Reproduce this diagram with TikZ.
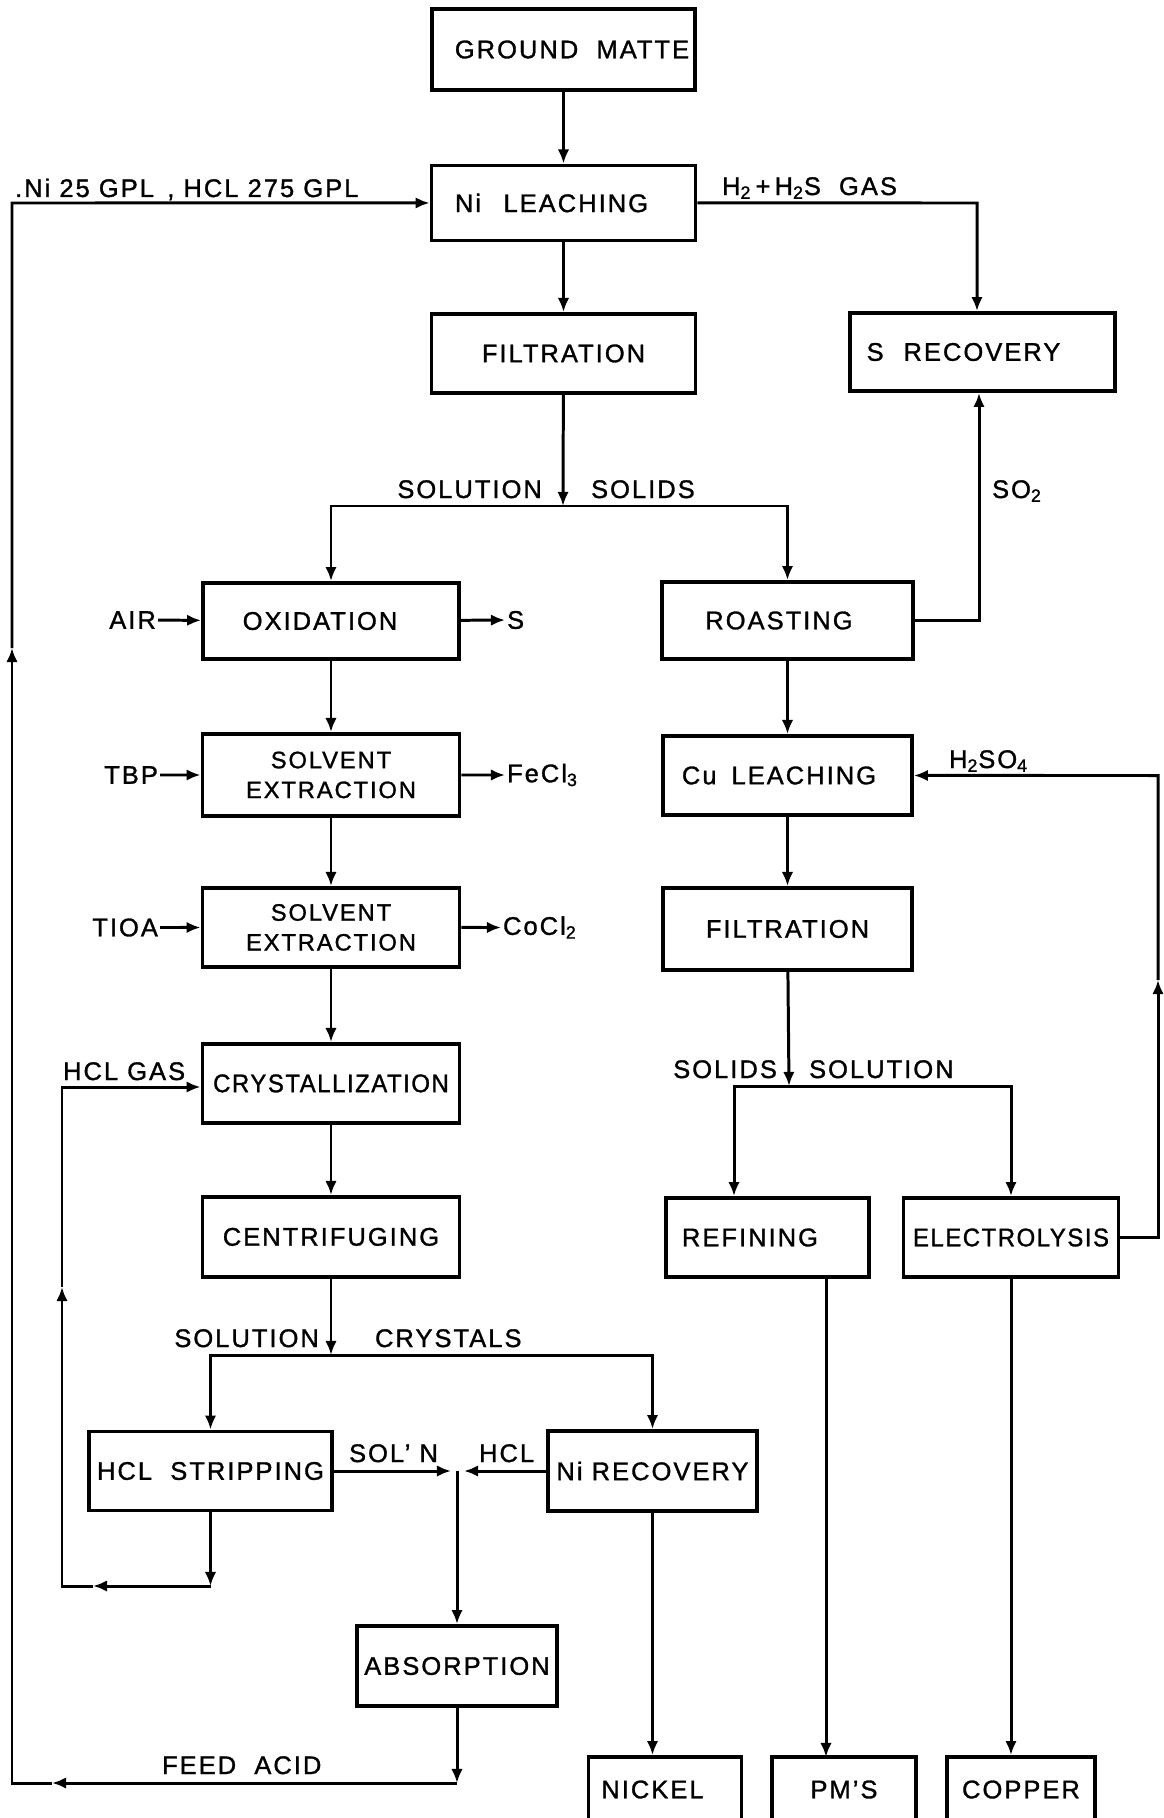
\documentclass[tikz,border=0pt]{standalone}
\usepackage{fontspec}
\setmainfont{Liberation Sans}[LetterSpace=8, FakeBold=1.2]
\usetikzlibrary{arrows, arrows.meta, positioning, shapes, calc}

\begin{document}
\begin{tikzpicture}[x=0.02cm, y=-0.02cm, font=\fontsize{14.5}{17}\selectfont]
% 定义节点样式
\tikzstyle{block} = [rectangle, draw, line width=2.2pt, align=center, inner sep=1pt, minimum width=5.14cm, minimum height=1.58cm]
\tikzstyle{line} = [draw, line width=1.7pt, -{Latex[length=8pt, width=6.5pt]}]
\tikzstyle{tag} = [inner sep=1pt]
\tikzstyle{tight} = [font=\fontsize{14.5}{17}\selectfont\addfontfeature{FakeStretch=0.94, LetterSpace=6}]
\tikzstyle{twoline} = [font=\fontsize{13.5}{17}\selectfont]

% 画布
\path [use as bounding box, fill=white] (0,0) rectangle (1163,1818);
\clip (0,0) rectangle (1163,1818);

% 中间一列
\node [block, minimum width=5.26cm, minimum height=1.62cm] (ground) at (563.5,49.5) {\hspace{0.34cm}GROUND\ \ MATTE};
\node [block, below of=ground, node distance=3.07cm, minimum width=5.28cm, minimum height=1.5cm] (nileach) {Ni\hspace{0.45cm}LEACHING\hspace{0.48cm}};
\node [block, below of=nileach, node distance=3.01cm, minimum width=5.28cm] (filt1) {FILTRATION};
\node [block, minimum width=5.3cm, minimum height=1.56cm] (srec) at (982.5,352) {S\hspace{0.4cm}RECOVERY\hspace{0.76cm}};

% 左边一列
\node [block, minimum width=5.12cm, minimum height=1.52cm] (oxid) at (331,621) {OXIDATION\hspace{0.44cm}};
\node [block, twoline, below of=oxid, node distance=3.08cm, minimum height=1.64cm] (solv1) {SOLVENT\\EXTRACTION};
\node [block, twoline, below of=solv1, node distance=3.05cm] (solv2) {SOLVENT\\EXTRACTION};
\node [block, tight, below of=solv2, node distance=3.12cm] (cryst) {CRYSTALLIZATION};
\node [block, below of=cryst, node distance=3.07cm, minimum height=1.6cm] (centri) {CENTRIFUGING};

% 右边一列
\node [block, minimum width=5.02cm, minimum height=1.54cm] (roast) at (787.5,620.5) {ROASTING\hspace{0.34cm}};
\node [block, below of=roast, node distance=3.1cm, minimum width=4.98cm] (culeach) {Cu\hspace{0.3cm}LEACHING\hspace{0.34cm}};
\node [block, below of=culeach, node distance=3.07cm, minimum width=4.98cm, minimum height=1.64cm] (filt2) {FILTRATION};
\node [block, minimum width=4.06cm] (refin) at (767.5,1237.5) {REFINING\hspace{0.7cm}};
\node [block, tight, minimum width=4.3cm] (electro) at (1011,1237.5) {ELECTROLYSIS};

% 下面几个
\node [block, minimum width=4.86cm] (hclstrip) at (210.5,1471) {HCL\ \ STRIPPING};
\node [block, minimum width=4.18cm, minimum height=1.6cm] (nirec) at (652.5,1471) {Ni RECOVERY};
\node [block, minimum width=4cm, minimum height=1.6cm] (absorp) at (457,1666) {ABSORPTION};
\node [block, minimum width=3.06cm, minimum height=1.3cm] (nickel) at (665,1789.5) {NICKEL\hspace{0.5cm}};
\node [block, minimum width=2.88cm, minimum height=1.3cm] (pms) at (844,1789.5) {PM'S};
\node [block, minimum width=2.96cm, minimum height=1.3cm] (copper) at (1021,1789.5) {COPPER};

% 添加标签
\node [tag, anchor=base west] (feed) at (13,197) {.Ni 25 GPL\,\ ,\ HCL 275\ GPL};
\node [tag, anchor=base west] (gas) at (720,195) {H\textsubscript{2}\,+\,H\textsubscript{2}S\ \ GAS};
\node [tag, anchor=base east] (sol1) at (544,498) {SOLUTION};
\node [tag, anchor=base west] (sld1) at (589,498) {SOLIDS};
\node [tag, anchor=base west] (so2) at (990,498) {SO\textsubscript{2}};
\node [tag, anchor=east] (air) at (158,620) {AIR};
\node [tag, anchor=west] (sout) at (505,620) {S};
\node [tag, anchor=east] (tbp) at (160,775) {TBP};
\node [tag, anchor=west] (fecl) at (505,775) {FeCl\textsubscript{3}};
\node [tag, anchor=east] (tioa) at (160,927.5) {TIOA};
\node [tag, anchor=west] (cocl) at (501,927.5) {CoCl\textsubscript{2}};
\node [tag, anchor=base west] (h2so4) at (947,768) {H\textsubscript{2}SO\textsubscript{4}};
\node [tag, anchor=base west] (hclgas) at (61,1080) {HCL GAS};
\node [tag, anchor=base east] (sld2) at (779,1078) {SOLIDS};
\node [tag, anchor=base west] (sol2) at (807,1078) {SOLUTION};
\node [tag, anchor=base east] (sol3) at (321,1347) {SOLUTION};
\node [tag, anchor=base west] (cryl) at (373,1347) {CRYSTALS};
\node [tag, anchor=base west] (soln) at (347,1462) {SOL'~N};
\node [tag, anchor=base west] (hcl) at (477,1462) {HCL};
\node [tag, anchor=base west] (acid) at (160,1774) {FEED\ \ ACID};

% 连接点
\coordinate (s1) at (563,506);
\coordinate (s2) at (789,1086);
\coordinate (s3) at (331,1355);
\coordinate (rfin) at (734,1086);
\coordinate (gasr) at (977,203);
\coordinate (so2r) at (979,620.5);
\coordinate (acr) at (1158,1237.5);
\coordinate (acm) at (1158,980);
\coordinate (acu) at (1158,775.5);
\coordinate (jn) at (457,1471);
\coordinate (jl) at (451,1471);
\coordinate (jr) at (464,1471);
\coordinate (hsb) at (210.5,1586);
\coordinate (hsm) at (93,1586);
\coordinate (hsl) at (62,1586);
\coordinate (hgm) at (62,1287);
\coordinate (hgt) at (62,1087);
\coordinate (fa) at (457,1783);
\coordinate (fam) at (52,1783);
\coordinate (lb) at (12,1783);
\coordinate (lm) at (12,648);
\coordinate (lt) at (12,203);
\coordinate (pmin) at (826,1757);

% 连接节点
\path [line] (ground) -- (nileach);
\path [line] (nileach) -- (filt1);
\path [line] (nileach.east) -- (gasr) -- (gasr |- srec.north);
\path [line] (filt1) -- (s1);
\path [line] (s1) -| (oxid.north);
\path [line] (s1) -| (roast.north);
\path [line] (roast.east) -- (so2r) -- (so2r |- srec.south);
\path [line] (air) -- (oxid);
\path [line] (oxid) -- (sout);
\path [line] (oxid) -- (solv1);
\path [line] (tbp) -- (solv1);
\path [line] (solv1) -- (fecl);
\path [line] (solv1) -- (solv2);
\path [line] (tioa) -- (solv2);
\path [line] (solv2) -- (cocl);
\path [line] (solv2) -- (cryst);
\path [line] (cryst) -- (centri);
\path [line] (centri) -- (s3);
\path [line] (s3) -| (hclstrip.north);
\path [line] (s3) -| (nirec.north);
\path [line] (hclstrip.east) -- (jl);
\path [line] (nirec.west) -- (jr);
\path [line] (jn) -- (absorp.north);
\path [line] (absorp.south) -- (fa);
\path [line] (fa) -- (fam);
\path [line] (fam) -- (lb) -- (lm);
\path [line] (lm) -- (lt) -- (nileach.west);
\path [line] (hclstrip.south) -- (hsb);
\path [line] (hsb) -- (hsm);
\path [line] (hsm) -- (hsl) -- (hgm);
\path [line] (hgm) -- (hgt) -- (hgt -| cryst.west);
\path [line] (roast) -- (culeach);
\path [line] (culeach) -- (filt2);
\path [line] (filt2) -- (s2);
\path [line] (s2) -- (rfin) -- (rfin |- refin.north);
\path [line] (s2) -| (electro.north);
\path [line] (electro.east) -- (acr) -- (acm);
\path [line] (acm) -- (acu) -- (culeach.east);
\path [line] (refin.south -| pmin) -- (pmin);
\path [line] (nirec.south) -- (nirec.south |- nickel.north);
\path [line] (electro.south) -- (electro.south |- copper.north);
\end{tikzpicture}
\end{document}
